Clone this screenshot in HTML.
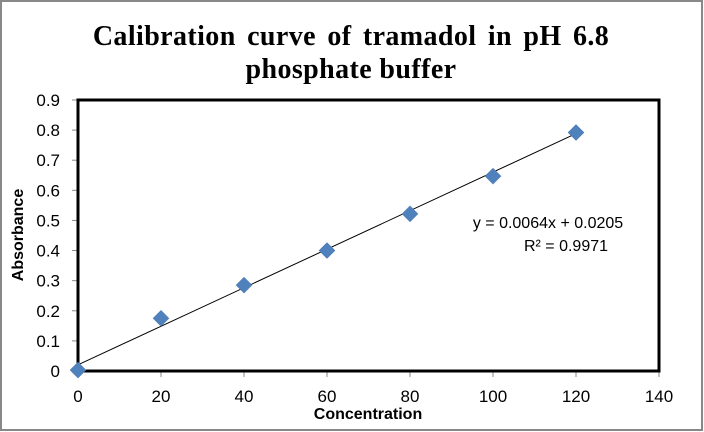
<!DOCTYPE html>
<html><head><meta charset="utf-8"><style>
html,body{margin:0;padding:0;background:#fff}
svg{display:block}
</style></head><body>
<svg width="704" height="432" viewBox="0 0 704 432" xmlns="http://www.w3.org/2000/svg">
<rect x="1" y="1" width="701" height="429" fill="#fff" stroke="#888" stroke-width="2"/>
<text x="351" y="45" text-anchor="middle" font-family="Liberation Serif, serif" font-weight="bold" font-size="28" word-spacing="4" letter-spacing="0.4">Calibration  curve of tramadol in pH 6.8</text>
<text x="351" y="78" text-anchor="middle" font-family="Liberation Serif, serif" font-weight="bold" font-size="28" letter-spacing="0.4">phosphate buffer</text>
<g id="axes"></g>
<g id="marks"></g>
<text x="548" y="228" text-anchor="middle" font-family="Liberation Sans, sans-serif" font-size="16">y = 0.0064x + 0.0205</text>
<text x="566" y="251" text-anchor="middle" font-family="Liberation Sans, sans-serif" font-size="16">R² = 0.9971</text>
<text x="368" y="419" text-anchor="middle" font-family="Liberation Sans, sans-serif" font-weight="bold" font-size="16">Concentration</text>
<text transform="translate(23,235) rotate(-90)" text-anchor="middle" font-family="Liberation Sans, sans-serif" font-weight="bold" font-size="16">Absorbance</text>
</svg>
<script>
const concentrations = [0, 20, 40, 60, 80, 100, 120];
const absorbances = [0.003, 0.175, 0.285, 0.400, 0.522, 0.647, 0.792];
const xTicks = [0, 20, 40, 60, 80, 100, 120, 140];
const yTicks = [0, 0.1, 0.2, 0.3, 0.4, 0.5, 0.6, 0.7, 0.8, 0.9];
const slope = 0.0064, intercept = 0.0205;

const NS = "http://www.w3.org/2000/svg";
const X0 = 78, X1 = 659, Y0 = 371, Y1 = 100;
const sx = v => X0 + (v - 0) / 140 * (X1 - X0);
const sy = v => Y0 - v / 0.9 * (Y0 - Y1);
function mk(tag, attrs, parent) {
  const e = document.createElementNS(NS, tag);
  for (const k in attrs) e.setAttribute(k, attrs[k]);
  parent.appendChild(e);
  return e;
}
const axes = document.getElementById('axes');
const marks = document.getElementById('marks');
for (const t of yTicks) {
  const y = sy(t);
  const l = mk('line', {x1: X0 - 6, x2: X0, y1: y, y2: y, stroke: '#888', 'stroke-width': 1}, axes);
  
  
  const tx = mk('text', {x: X0 - 18, y: y + 6, 'text-anchor': 'end', 'font-family': 'Liberation Sans, sans-serif', 'font-size': 17}, axes);
  tx.textContent = String(t);
  
  
}
for (const t of xTicks) {
  const x = sx(t);
  const l = mk('line', {x1: x, x2: x, y1: Y0, y2: Y0 + 6, stroke: '#888', 'stroke-width': 1}, axes);
  
  
  const tx = mk('text', {x: x, y: Y0 + 31, 'text-anchor': 'middle', 'font-family': 'Liberation Sans, sans-serif', 'font-size': 17}, axes);
  tx.textContent = String(t);
  
  
}
const frame = mk('rect', {x: X0, y: Y1, width: X1 - X0, height: Y0 - Y1, fill: 'none', stroke: '#000', 'stroke-width': 3}, axes);


const xa = Math.min(...concentrations), xb = Math.max(...concentrations);
const tl = mk('line', {x1: sx(xa), y1: sy(slope * xa + intercept), x2: sx(xb), y2: sy(slope * xb + intercept), stroke: '#000', 'stroke-width': 1}, marks);


concentrations.forEach((c, i) => {
  const x = sx(c), y = sy(absorbances[i]), r = 8;
  const p = mk('polygon', {points: `${x},${y - r} ${x + r},${y} ${x},${y + r} ${x - r},${y}`, fill: '#4f81bd', stroke: '#4672aa', 'stroke-width': 0.5}, marks);
  
  
});
</script>
</body></html>
